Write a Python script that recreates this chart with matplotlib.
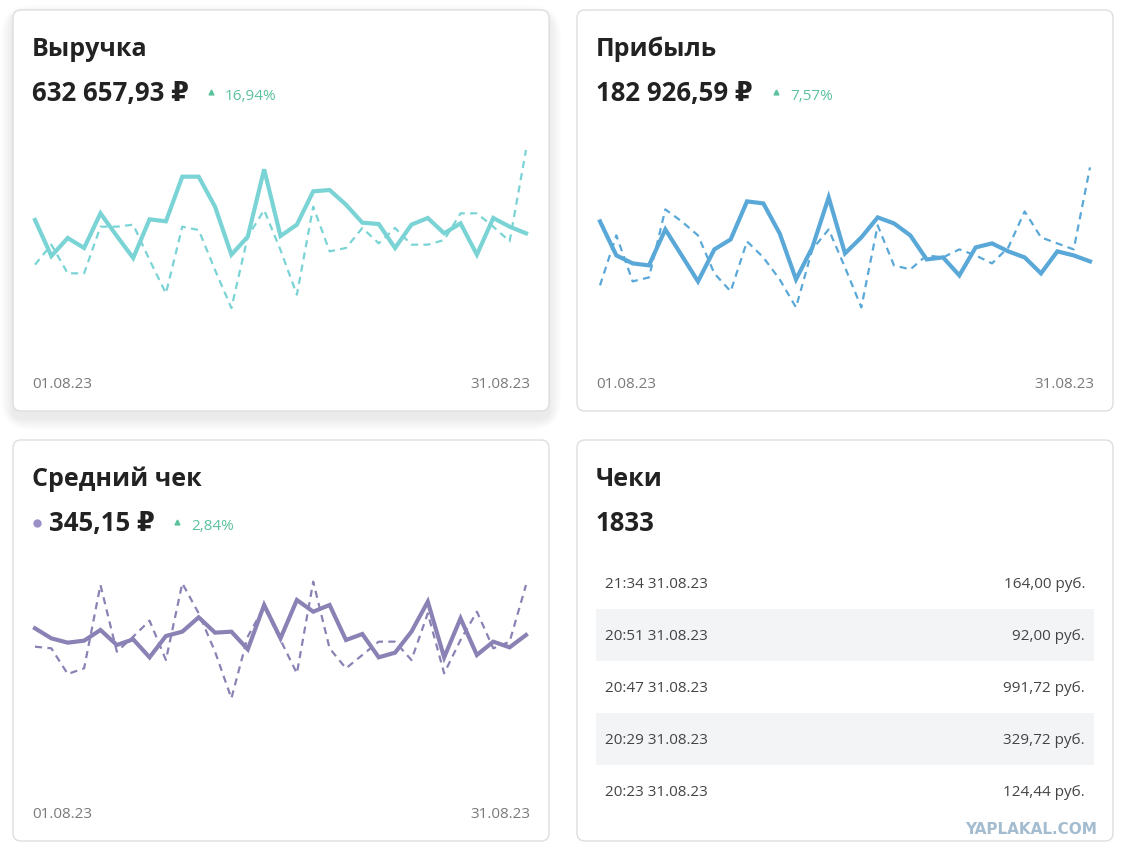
import numpy as np
import matplotlib.pyplot as plt
from matplotlib.patches import FancyBboxPatch, Rectangle

plt.rcParams['font.family'] = ['Open Sans', 'DejaVu Sans']

# daily values for August 2023 (current month) and the previous month, dashed
days = np.arange(31)
date_labels = ['01.08.23', '31.08.23']

revenue_cur = [20.5, 15.1, 17.8, 16.3, 21.5, 18.1, 14.8, 20.6, 20.3, 27.0, 27.0, 22.5, 15.3, 18.0, 28.1, 18.1,
               19.8, 24.8, 25.0, 22.8, 20.1, 19.9, 16.3, 19.8, 20.8, 18.5, 20.0, 15.3, 20.8, 19.5, 18.5]
revenue_prev = [13.8, 16.8, 12.5, 12.5, 19.5, 19.5, 19.8, 14.5, 9.5, 19.5, 19.0, 13.0, 7.3, 18.0, 22.0, 16.0,
                9.3, 22.5, 15.8, 16.3, 19.3, 17.0, 19.3, 16.8, 16.8, 17.5, 21.5, 21.5, 19.5, 17.3, 31.0]

profit_cur = [7.6, 5.9, 5.5, 5.4, 7.2, 5.9, 4.6, 6.2, 6.7, 8.6, 8.5, 7.0, 4.7, 6.3, 8.8, 6.0,
              6.8, 7.8, 7.5, 6.9, 5.7, 5.8, 4.9, 6.3, 6.5, 6.1, 5.8, 5.0, 6.1, 5.9, 5.6]
profit_prev = [4.4, 6.9, 4.6, 4.8, 8.2, 7.6, 6.9, 5.0, 4.1, 6.6, 5.8, 4.7, 3.3, 6.2, 7.2, 5.3,
               3.3, 7.4, 5.4, 5.2, 5.9, 5.8, 6.2, 5.9, 5.5, 6.3, 8.1, 6.8, 6.5, 6.2, 10.3]

check_cur = [362.5, 347.5, 341, 344, 360, 337.5, 346, 319, 351, 357.5, 379, 356, 357.5, 331, 397.5, 347.5,
             405, 387.5, 397.5, 345, 354, 319, 326, 357.5, 402.5, 319, 377.5, 322.5, 342.5, 334, 352.5]
check_prev = [335, 332.5, 294, 302.5, 427.5, 327.5, 350, 374, 315, 430, 385, 327.5, 257.5, 350, 395, 345,
              295, 432.5, 332.5, 302.5, 322.5, 342.5, 342.5, 315, 385, 295, 345, 387.5, 332.5, 342.5, 427.5]

titles = ['Выручка', 'Прибыль', 'Средний чек', 'Чеки']
totals = ['632 657,93 ₽', '182 926,59 ₽', '345,15 ₽', '1833']
changes = ['16,94%', '7,57%', '2,84%']

receipt_times = ['21:34 31.08.23', '20:51 31.08.23', '20:47 31.08.23', '20:29 31.08.23', '20:23 31.08.23']
receipt_sums = ['164,00 руб.', '92,00 руб.', '991,72 руб.', '329,72 руб.', '124,44 руб.']

W, H = 1125, 860
fig = plt.figure(figsize=(W / 100, H / 100), dpi=100)
fig.patch.set_facecolor('white')

bg = fig.add_axes([0, 0, 1, 1])
bg.set_xlim(0, W)
bg.set_ylim(H, 0)
bg.axis('off')

cards = [(13, 10), (577, 10), (13, 440), (577, 440)]
cw, ch = 536, 401

# soft shadow under the first card
for k in range(10):
    g = 2 + k * 2.5
    bg.add_patch(FancyBboxPatch((13 - g / 2, 10 + 5 - g / 2 + 2), cw + g, ch + g,
                                boxstyle='round,pad=0,rounding_size=%d' % (8 + g),
                                fc='black', ec='none', alpha=0.006))
for x0, y0 in cards:
    bg.add_patch(FancyBboxPatch((x0, y0), cw, ch, boxstyle='round,pad=0,rounding_size=8',
                                fc='white', ec='#dedede', lw=1.0))

dark = '#222222'
green = '#5cc29c'
for i, (x0, y0) in enumerate(cards):
    bg.text(x0 + 19, y0 + 46, titles[i], fontsize=18, fontweight='bold', color=dark, va='baseline')

# totals + change
bg.text(32, 101, totals[0], fontsize=18.5, fontweight='bold', color=dark, va='baseline')
bg.plot(211, 92, marker='^', ms=3.5, color=green)
bg.text(225, 100, changes[0], fontsize=11, color=green, va='baseline')

bg.text(596, 101, totals[1], fontsize=18.5, fontweight='bold', color=dark, va='baseline')
bg.plot(776, 92, marker='^', ms=3.5, color=green)
bg.text(790, 100, changes[1], fontsize=11, color=green, va='baseline')

bg.plot(37, 523, marker='o', ms=6, color='#9b8fc8', mec='none')
bg.text(49, 531, totals[2], fontsize=18.5, fontweight='bold', color=dark, va='baseline')
bg.plot(177, 522, marker='^', ms=3.5, color=green)
bg.text(191, 530, changes[2], fontsize=11, color=green, va='baseline')

bg.text(596, 531, totals[3], fontsize=18.5, fontweight='bold', color=dark, va='baseline')

# date labels under the charts
grey = '#7a7a7a'
for x_l, x_r, y in [(32, 530, 388), (596, 1094, 388), (32, 530, 818)]:
    bg.text(x_l, y, date_labels[0], fontsize=11, color=grey, va='baseline')
    bg.text(x_r, y, date_labels[1], fontsize=11, color=grey, va='baseline', ha='right')

# receipts list
for j, (t, s) in enumerate(zip(receipt_times, receipt_sums)):
    yc = 583 + j * 52
    if j % 2 == 1:
        bg.add_patch(Rectangle((596, yc - 26), 498, 52, fc='#f3f4f6', ec='none'))
    bg.text(605, yc + 5, t, fontsize=11, color='#444444', va='baseline')
    bg.text(1085, yc + 5, s, fontsize=11, color='#444444', va='baseline', ha='right')

bg.text(1031, 834, 'YAPLAKAL.COM', fontsize=11, fontweight='bold', color='#a3bccf',
        ha='center', va='baseline', family=['DejaVu Sans'])


def chart(x_px, y_px, ylim, cur, prev, color):
    ax = fig.add_axes([x_px[0] / W, 1 - y_px[1] / H, (x_px[1] - x_px[0]) / W, (y_px[1] - y_px[0]) / H])
    ax.plot(days, prev, color=color, lw=1.6, dashes=(3.2, 2.4), clip_on=False)
    ax.plot(days, cur, color=color, lw=3.0, solid_joinstyle='miter', clip_on=False)
    ax.set_xlim(0, 30)
    ax.set_ylim(*ylim)
    ax.axis('off')
    return ax


chart((35, 526), (130, 330), (4, 34), revenue_cur, revenue_prev, '#7ad3d4')
chart((600, 1090), (140, 330), (2.17, 11.67), profit_cur, profit_prev, '#5aa8d8')
chart((35, 526), (570, 710), (240, 450), check_cur, check_prev, '#8a82b4')

fig.savefig('out.png', dpi=100, facecolor='white')
